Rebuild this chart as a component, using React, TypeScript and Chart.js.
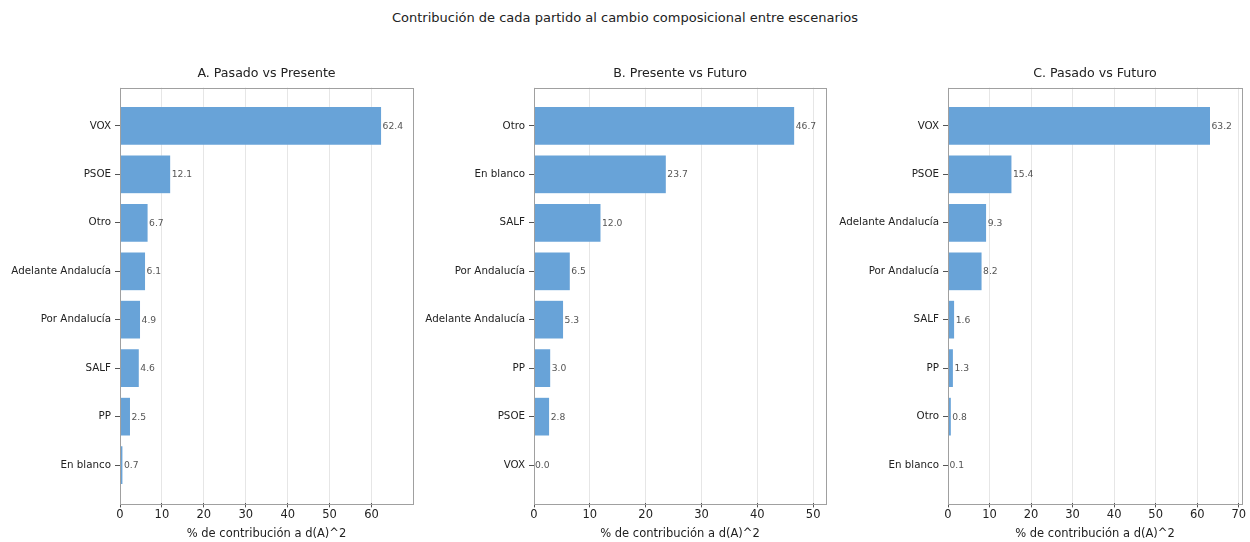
import React, { useEffect, useRef } from "react";
import { Chart, registerables } from "chart.js";

Chart.register(...registerables);

const mainTitle = "Contribución de cada partido al cambio composicional entre escenarios";
const axisTitle = "% de contribución a d(A)^2";

const titleA = "A. Pasado vs Presente";
const partiesA = ["VOX", "PSOE", "Otro", "Adelante Andalucía", "Por Andalucía", "SALF", "PP", "En blanco"];
const valuesA = [62.4, 12.1, 6.7, 6.1, 4.9, 4.6, 2.5, 0.7];

const titleB = "B. Presente vs Futuro";
const partiesB = ["Otro", "En blanco", "SALF", "Por Andalucía", "Adelante Andalucía", "PP", "PSOE", "VOX"];
const valuesB = [46.7, 23.7, 12.0, 6.5, 5.3, 3.0, 2.8, 0.0];

const titleC = "C. Pasado vs Futuro";
const partiesC = ["VOX", "PSOE", "Adelante Andalucía", "Por Andalucía", "SALF", "PP", "Otro", "En blanco"];
const valuesC = [63.2, 15.4, 9.3, 8.2, 1.6, 1.3, 0.8, 0.1];

const FONT = "'DejaVu Sans', sans-serif";
const BAR = "rgb(104, 163, 216)";

type PanelProps = {
  title: string;
  labels: string[];
  values: number[];
  left: number;
  width: number;
  yWidth: number;
  padRight: number;
};

const frameAndLabels = {
  id: "frameAndLabels",
  afterDatasetsDraw(chart: any) {
    const { ctx, chartArea } = chart;
    const xs = chart.scales.x;
    const ys = chart.scales.y;
    const data = chart.data.datasets[0].data as { x: number; y: number }[];
    ctx.save();
    ctx.font = `9.2px ${FONT}`;
    ctx.fillStyle = "#555555";
    ctx.textAlign = "left";
    ctx.textBaseline = "middle";
    data.forEach((d) => {
      const px = xs.getPixelForValue(d.x);
      const py = ys.getPixelForValue(d.y);
      ctx.fillText(d.x.toFixed(1), px + 1, py + 0.5);
    });
    ctx.strokeStyle = "#a0a0a0";
    ctx.lineWidth = 1;
    ctx.strokeRect(
      Math.round(chartArea.left) + 0.5,
      Math.round(chartArea.top) + 0.5,
      Math.round(chartArea.right - chartArea.left),
      Math.round(chartArea.bottom - chartArea.top)
    );
    const t = chart.options.plugins.panelTitle?.text;
    if (t) {
      ctx.font = `12.6px ${FONT}`;
      ctx.fillStyle = "#222222";
      ctx.textAlign = "center";
      ctx.textBaseline = "middle";
      ctx.fillText(t, (chartArea.left + chartArea.right) / 2, chartArea.top - 14);
    }
    ctx.restore();
  },
};

function Panel({ title, labels, values, left, width, yWidth, padRight }: PanelProps) {
  const ref = useRef<HTMLCanvasElement>(null);
  useEffect(() => {
    if (!ref.current) return;
    const n = labels.length;
    const margin = 0.05 * (n - 1 + 0.8);
    const xMax = Math.max(...values) * 1.12;
    const chart = new Chart(ref.current, {
      type: "bar",
      data: {
        datasets: [
          {
            data: values.map((v, i) => ({ x: v, y: i })),
            backgroundColor: BAR,
            borderColor: "rgba(255,255,255,0.3)",
            borderWidth: 0.5,
            barPercentage: 0.8,
            categoryPercentage: 1,
          },
        ],
      },
      options: {
        animation: false,
        responsive: false,
        indexAxis: "y",
        layout: { padding: { top: 87.6, left: 0, right: padRight, bottom: 0 } },
        plugins: {
          legend: { display: false },
          tooltip: { enabled: false },
          title: { display: false },
          panelTitle: { text: title },
        },
        scales: {
          x: {
            type: "linear",
            min: 0,
            max: xMax,
            offset: false,
            ticks: {
              stepSize: 10,
              includeBounds: false,
              color: "#222222",
              font: { family: FONT, size: 11.5 },
              padding: 1,
              maxRotation: 0,
            },
            grid: {
              color: "rgba(200,200,200,0.45)",
              lineWidth: 1,
              tickLength: 4,
              tickColor: "#555555",
              offset: false,
            },
            border: { display: false },
            title: {
              display: true,
              text: axisTitle,
              color: "#222222",
              font: { family: FONT, size: 11.5 },
              padding: { top: 0, bottom: 1.5 },
            },
            afterFit: (s: any) => {
              s.height = 38.6;
            },
          },
          y: {
            type: "linear",
            reverse: true,
            offset: false,
            min: -0.4 - margin,
            max: n - 1 + 0.4 + margin,
            afterBuildTicks: (s: any) => {
              s.ticks = labels.map((_, i) => ({ value: i }));
            },
            ticks: {
              callback: (v: any) => labels[v as number] ?? "",
              color: "#222222",
              font: { family: FONT, size: 10.3 },
              padding: 4,
              autoSkip: false,
            },
            grid: {
              drawOnChartArea: false,
              tickLength: 5,
              tickColor: "#555555",
              offset: false,
            },
            border: { display: false },
            afterFit: (s: any) => {
              s.width = yWidth;
            },
          },
        },
      },
      plugins: [frameAndLabels],
    } as any);
    return () => chart.destroy();
  }, []);
  return (
    <canvas
      ref={ref}
      width={width}
      height={542}
      style={{ position: "absolute", left, top: 0, width, height: 542 }}
    />
  );
}

export default function App() {
  useEffect(() => {
    document.body.style.margin = "0";
  }, []);
  return (
    <div style={{ position: "relative", width: 1250, height: 542, background: "#ffffff", overflow: "hidden" }}>
      <div
        style={{
          position: "absolute",
          left: 0,
          top: 8,
          width: 1250,
          textAlign: "center",
          fontFamily: FONT,
          fontSize: 13,
          color: "#222222",
          lineHeight: "20px",
        }}
      >
        {mainTitle}
      </div>
      <Panel title={titleA} labels={partiesA} values={valuesA} left={0} width={420} yWidth={120} padRight={7} />
      <Panel title={titleB} labels={partiesB} values={valuesB} left={420} width={413} yWidth={114} padRight={7} />
      <Panel title={titleC} labels={partiesC} values={valuesC} left={833} width={417} yWidth={115} padRight={8} />
    </div>
  );
}
